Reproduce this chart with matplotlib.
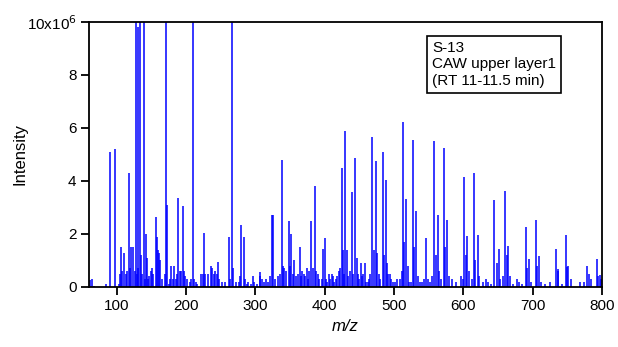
import matplotlib
matplotlib.use("Agg")
from matplotlib import pyplot as plt
from matplotlib.ticker import FixedLocator, FuncFormatter
import numpy as np

plt.rcParams["font.family"] = ["Liberation Sans", "DejaVu Sans"]

# major peaks (m/z, intensity in units of 1e6); >10 are clipped at the top
major_mz = [91, 97, 106, 111, 118, 124, 128, 130, 134, 139, 142, 156, 158, 171, 173,
            183, 189, 195, 210, 226, 262, 266, 280, 283, 306, 324, 326, 338, 348, 352,
            365, 381, 386, 398, 400, 425, 430, 439, 444, 469, 474, 484, 488, 513, 518,
            527, 532, 546, 558, 563, 572, 577, 601, 606, 615, 621, 645, 651, 660, 665,
            690, 695, 705, 709, 734, 736, 748, 750, 778, 793, 797]
major_int = [5.1, 5.2, 1.5, 1.3, 4.3, 1.5, 14, 9.8, 14, 14, 2.0, 2.65, 1.9, 14, 3.1,
             0.8, 3.35, 3.05, 14, 2.05, 1.9, 14, 2.35, 1.9, 0.55, 2.72, 2.72, 4.8, 2.5, 2.0,
             1.5, 2.5, 3.8, 1.45, 1.85, 4.48, 5.9, 3.6, 4.86, 5.67, 4.76, 5.09, 4.04, 6.22, 3.31,
             5.54, 2.85, 1.85, 5.5, 2.7, 5.23, 2.52, 4.14, 1.91, 4.31, 1.96, 3.29, 1.44, 3.63, 1.54,
             2.27, 1.05, 2.53, 1.18, 1.44, 0.67, 1.96, 0.77, 0.8, 1.05, 0.44]

# background / minor peaks
minor_mz = [62, 64, 67, 85, 103, 105, 107, 113, 115, 119, 121, 126, 129, 131, 135, 137,
            141, 143, 145, 147, 149, 151, 153, 159, 161, 163, 165, 169, 175, 177, 179, 181,
            185, 187, 191, 193, 197, 199, 201, 205, 207, 212, 214, 216, 222, 224, 228, 232,
            236, 238, 240, 242, 244, 246, 248, 252, 256, 264, 268, 272, 276, 278, 285, 288,
            290, 294, 296, 298, 302, 307, 310, 312, 316, 318, 321, 329, 332, 335, 340, 342,
            344, 350, 354, 356, 358, 362, 366, 368, 370, 372, 374, 376, 378, 383, 388, 390,
            392, 396, 402, 404, 406, 408, 410, 412, 414, 416, 418, 420, 422, 426, 428, 432,
            434, 436, 441, 446, 448, 450, 452, 454, 456, 458, 460, 462, 464, 466, 471, 476,
            478, 480, 486, 490, 492, 494, 496, 498, 502, 505, 508, 511, 515, 520, 522, 525,
            529, 534, 538, 541, 544, 549, 552, 555, 560, 565, 568, 574, 579, 584, 590, 596,
            599, 604, 608, 612, 617, 623, 628, 633, 636, 640, 648, 653, 657, 663, 667, 672,
            677, 680, 684, 692, 698, 707, 712, 718, 725, 737, 743, 751, 755, 768, 774, 781,
            784, 795, 798]
minor_int = [0.25, 0.3, 0.05, 0.1, 0.1, 0.5, 0.6, 0.5, 0.6, 0.7, 1.5, 0.6, 0.5, 0.7, 1.2, 0.5,
             0.3, 1.1, 0.3, 0.4, 0.6, 0.7, 0.5, 1.4, 1.3, 1.0, 0.3, 0.5, 0.1, 0.3, 0.8, 0.3,
             0.3, 0.5, 0.6, 0.6, 0.6, 0.4, 0.3, 0.2, 0.3, 0.3, 0.2, 0.1, 0.5, 0.5, 0.5, 0.5,
             0.8, 0.7, 0.5, 0.6, 0.5, 0.95, 0.3, 0.2, 0.2, 0.3, 0.7, 0.2, 0.2, 0.4, 0.3, 0.1,
             0.2, 0.1, 0.4, 0.2, 0.1, 0.4, 0.3, 0.2, 0.3, 0.2, 0.4, 0.3, 0.4, 0.5, 0.8, 0.7,
             0.6, 0.8, 0.5, 1.0, 0.4, 0.5, 0.4, 0.6, 0.5, 0.4, 0.7, 0.3, 0.6, 0.7, 0.6, 0.5,
             0.3, 0.3, 0.3, 0.2, 0.5, 0.3, 0.5, 0.4, 0.2, 0.3, 0.4, 0.6, 0.7, 1.4, 0.5, 1.4,
             0.4, 0.6, 0.5, 1.1, 0.5, 0.3, 0.9, 0.4, 0.5, 0.9, 0.2, 0.2, 0.3, 0.5, 1.4, 1.3,
             0.5, 0.3, 1.2, 0.9, 0.5, 0.5, 0.3, 0.2, 0.2, 0.3, 0.3, 0.6, 1.7, 0.8, 0.2, 0.2,
             1.5, 0.4, 0.2, 0.2, 0.3, 0.3, 0.2, 0.4, 1.2, 0.6, 0.3, 1.5, 0.4, 0.3, 0.2, 0.4,
             0.3, 1.2, 0.6, 0.3, 1.0, 0.4, 0.2, 0.3, 0.2, 0.1, 0.9, 0.3, 0.4, 1.2, 0.4, 0.1,
             0.3, 0.2, 0.1, 0.7, 0.2, 0.8, 0.2, 0.1, 0.2, 0.6, 0.1, 0.8, 0.3, 0.2, 0.2, 0.5,
             0.3, 0.4, 0.3]

mz = np.array(major_mz + minor_mz, dtype=float)
inten = np.array(major_int + minor_int) * 1e6

fig = plt.figure(figsize=(6.18, 3.47), dpi=100)
ax = fig.add_axes([0.144, 0.173, 0.830, 0.764])
ax.vlines(mz, 0, inten, color="#0000ff", linewidth=1.1)

ax.set_xlim(60, 800)
ax.set_ylim(0, 10e6)
ax.xaxis.set_major_locator(FixedLocator([100, 200, 300, 400, 500, 600, 700, 800]))
ax.yaxis.set_major_locator(FixedLocator([0, 2e6, 4e6, 6e6, 8e6, 10e6]))
ax.yaxis.set_major_formatter(FuncFormatter(
    lambda v, p: "10x10$^{6}$" if v >= 10e6 else "%d" % round(v / 1e6)))
ax.tick_params(direction="out", length=6, width=1.3, labelsize=11, pad=3)
for s in ax.spines.values():
    s.set_linewidth(1.3)

ax.set_xlabel("m/z", fontsize=12, style="italic")
ax.set_ylabel("Intensity", fontsize=12)
ax.yaxis.set_label_coords(-0.12, 0.5)

box_x = (428 - 89) / (602 - 89) + 0.008
box_y = 1 - (36 - 22) / (287 - 22) - 0.02
ax.text(box_x, box_y, "S-13\nCAW upper layer1\n(RT 11-11.5 min)",
        transform=ax.transAxes, ha="left", va="top", fontsize=11, linespacing=1.2,
        bbox=dict(boxstyle="square,pad=0.35", facecolor="white", edgecolor="black", linewidth=1.2))

fig.savefig("out.png", dpi=100)
